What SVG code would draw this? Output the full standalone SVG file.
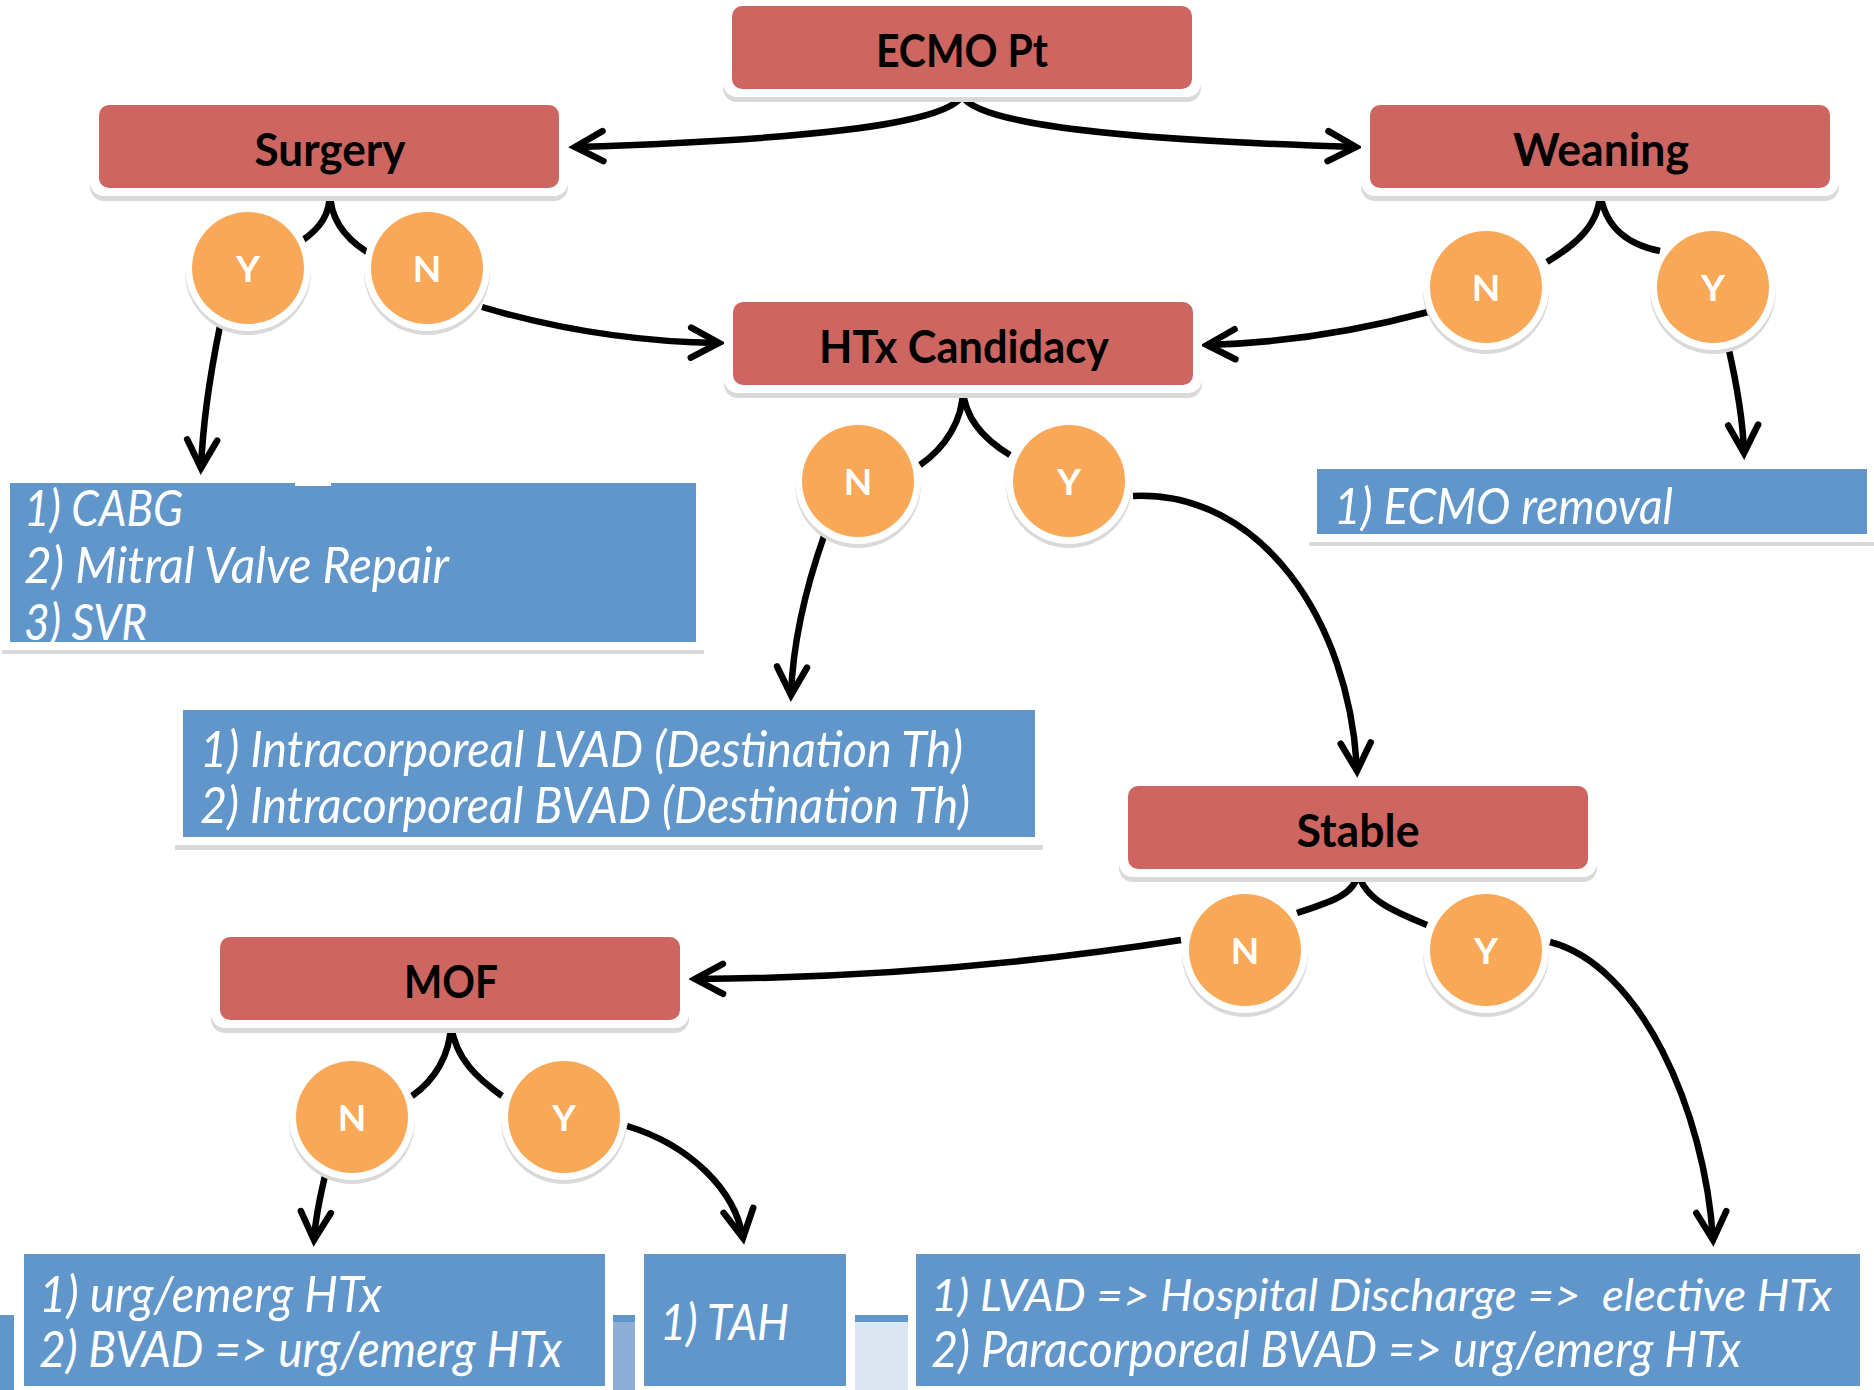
<svg xmlns="http://www.w3.org/2000/svg" width="1874" height="1390" viewBox="0 0 1874 1390">
<style>
.shadow{fill:#d9d9d9}
.frame{fill:#ffffff}
.red{fill:#cd6660}
.orange{fill:#f9a857}
.blue{fill:#6196ca}
.hd{font-family:Lato,"Liberation Sans",sans-serif;font-weight:bold;font-size:45px;fill:#000;text-anchor:middle}
.yn{font-family:Lato,"Liberation Sans",sans-serif;font-weight:bold;font-size:37px;fill:#fff;text-anchor:middle}
.it{font-family:Lato,"Liberation Sans",sans-serif;font-style:italic;font-size:50px;fill:#fff}
.it.long{font-size:44px}
.con{fill:none;stroke:#000;stroke-width:6.5}
</style>
<defs>
<marker id="arr" markerUnits="userSpaceOnUse" markerWidth="60" markerHeight="60" viewBox="-40 -30 60 60" refX="0" refY="0" orient="auto" overflow="visible">
<path d="M-28,-15 L0,0 L-28,15" fill="none" stroke="#000" stroke-width="6.5" stroke-linecap="round" stroke-linejoin="miter"/>
</marker>
</defs>
<rect width="1874" height="1390" fill="#fff"/>

<g id="bottom-strips">
<rect x="0" y="1315" width="14" height="75" fill="#6196ca"/>
<rect x="613" y="1322" width="22" height="68" fill="#8daed8"/>
<rect x="613" y="1315" width="22" height="7" fill="#6196ca"/>
<rect x="855" y="1322" width="53" height="68" fill="#dce6f2"/>
<rect x="855" y="1315" width="53" height="7" fill="#6196ca"/>
</g>

<g id="connectors">
<path class="con" d="M962,96 C945,125 800,140 575,147" marker-end="url(#arr)"/>
<path class="con" d="M962,96 C979,125 1124,140 1356,147" marker-end="url(#arr)"/>
<path class="con" d="M330,192 C330,215 320,228 303,240"/>
<path class="con" d="M330,192 C330,218 345,238 367,252"/>
<path class="con" d="M220,326 C212,365 203,420 201,468" marker-end="url(#arr)"/>
<path class="con" d="M482,307 C560,330 640,342 719,343" marker-end="url(#arr)"/>
<path class="con" d="M1600,192 C1600,225 1575,245 1547,262"/>
<path class="con" d="M1600,192 C1605,230 1630,245 1660,251"/>
<path class="con" d="M1428,312 C1350,333 1280,343 1207,345" marker-end="url(#arr)"/>
<path class="con" d="M1728,346 C1737,385 1743,420 1744,453" marker-end="url(#arr)"/>
<path class="con" d="M963,390 C963,420 945,448 920,465"/>
<path class="con" d="M963,390 C965,420 985,440 1010,455"/>
<path class="con" d="M824,536 C805,590 793,640 791,695" marker-end="url(#arr)"/>
<path class="con" d="M1133,496 C1260,490 1350,620 1357,771" marker-end="url(#arr)"/>
<path class="con" d="M1358,873 C1355,895 1330,902 1297,913"/>
<path class="con" d="M1358,873 C1365,900 1395,912 1427,925"/>
<path class="con" d="M1181,940 C1020,965 850,978 695,979" marker-end="url(#arr)"/>
<path class="con" d="M1550,942 C1640,965 1705,1110 1713,1240" marker-end="url(#arr)"/>
<path class="con" d="M451,1024 C450,1055 435,1080 412,1096"/>
<path class="con" d="M451,1024 C455,1060 480,1080 502,1096"/>
<path class="con" d="M326,1172 C319,1200 315,1225 314,1240" marker-end="url(#arr)"/>
<path class="con" d="M627,1126 C690,1145 735,1190 743,1238" marker-end="url(#arr)"/>
</g>

<g id="ecmo-pt">
<rect class="shadow" x="723" y="3" width="478" height="99" rx="14"/>
<rect class="frame" x="723" y="-2" width="478" height="99" rx="14"/>
<rect class="red" x="732" y="6" width="460" height="83" rx="10"/>
<text class="hd" x="962" y="67" textLength="172" lengthAdjust="spacingAndGlyphs">ECMO Pt</text>
</g>
<g id="surgery">
<rect class="shadow" x="90" y="102" width="478" height="99" rx="14"/>
<rect class="frame" x="90" y="97" width="478" height="99" rx="14"/>
<rect class="red" x="99" y="105" width="460" height="83" rx="10"/>
<text class="hd" x="330" y="166" textLength="151" lengthAdjust="spacingAndGlyphs">Surgery</text>
</g>
<g id="weaning">
<rect class="shadow" x="1361" y="102" width="478" height="99" rx="14"/>
<rect class="frame" x="1361" y="97" width="478" height="99" rx="14"/>
<rect class="red" x="1370" y="105" width="460" height="83" rx="10"/>
<text class="hd" x="1601" y="166" textLength="176" lengthAdjust="spacingAndGlyphs">Weaning</text>
</g>
<g id="htx-candidacy">
<rect class="shadow" x="724" y="299" width="478" height="99" rx="14"/>
<rect class="frame" x="724" y="294" width="478" height="99" rx="14"/>
<rect class="red" x="733" y="302" width="460" height="83" rx="10"/>
<text class="hd" x="964" y="363" textLength="290" lengthAdjust="spacingAndGlyphs">HTx Candidacy</text>
</g>
<g id="stable">
<rect class="shadow" x="1119" y="783" width="478" height="99" rx="14"/>
<rect class="frame" x="1119" y="778" width="478" height="99" rx="14"/>
<rect class="red" x="1128" y="786" width="460" height="83" rx="10"/>
<text class="hd" x="1358" y="847" textLength="123" lengthAdjust="spacingAndGlyphs">Stable</text>
</g>
<g id="mof">
<rect class="shadow" x="211" y="934" width="478" height="99" rx="14"/>
<rect class="frame" x="211" y="929" width="478" height="99" rx="14"/>
<rect class="red" x="220" y="937" width="460" height="83" rx="10"/>
<text class="hd" x="451" y="998" textLength="94" lengthAdjust="spacingAndGlyphs">MOF</text>
</g>

<g id="surgery-y">
<circle class="shadow" cx="248" cy="272" r="63"/><circle class="frame" cx="248" cy="268" r="63"/><circle class="orange" cx="248" cy="268" r="56"/>
<text class="yn" x="248" y="282">Y</text>
</g>
<g id="surgery-n">
<circle class="shadow" cx="427" cy="272" r="63"/><circle class="frame" cx="427" cy="268" r="63"/><circle class="orange" cx="427" cy="268" r="56"/>
<text class="yn" x="427" y="282">N</text>
</g>
<g id="weaning-n">
<circle class="shadow" cx="1486" cy="291" r="63"/><circle class="frame" cx="1486" cy="287" r="63"/><circle class="orange" cx="1486" cy="287" r="56"/>
<text class="yn" x="1486" y="301">N</text>
</g>
<g id="weaning-y">
<circle class="shadow" cx="1713" cy="291" r="63"/><circle class="frame" cx="1713" cy="287" r="63"/><circle class="orange" cx="1713" cy="287" r="56"/>
<text class="yn" x="1713" y="301">Y</text>
</g>
<g id="htx-n">
<circle class="shadow" cx="858" cy="485" r="63"/><circle class="frame" cx="858" cy="481" r="63"/><circle class="orange" cx="858" cy="481" r="56"/>
<text class="yn" x="858" y="495">N</text>
</g>
<g id="htx-y">
<circle class="shadow" cx="1069" cy="485" r="63"/><circle class="frame" cx="1069" cy="481" r="63"/><circle class="orange" cx="1069" cy="481" r="56"/>
<text class="yn" x="1069" y="495">Y</text>
</g>
<g id="stable-n">
<circle class="shadow" cx="1245" cy="954" r="63"/><circle class="frame" cx="1245" cy="950" r="63"/><circle class="orange" cx="1245" cy="950" r="56"/>
<text class="yn" x="1245" y="964">N</text>
</g>
<g id="stable-y">
<circle class="shadow" cx="1486" cy="954" r="63"/><circle class="frame" cx="1486" cy="950" r="63"/><circle class="orange" cx="1486" cy="950" r="56"/>
<text class="yn" x="1486" y="964">Y</text>
</g>
<g id="mof-n">
<circle class="shadow" cx="352" cy="1121" r="63"/><circle class="frame" cx="352" cy="1117" r="63"/><circle class="orange" cx="352" cy="1117" r="56"/>
<text class="yn" x="352" y="1131">N</text>
</g>
<g id="mof-y">
<circle class="shadow" cx="564" cy="1121" r="63"/><circle class="frame" cx="564" cy="1117" r="63"/><circle class="orange" cx="564" cy="1117" r="56"/>
<text class="yn" x="564" y="1131">Y</text>
</g>

<g id="surgery-options">
<rect class="shadow" x="2" y="484" width="702" height="170"/>
<rect class="frame" x="2" y="476" width="702" height="174"/>
<rect class="blue" x="10" y="483" width="686" height="159"/>
<rect class="frame" x="295" y="482" width="36" height="4"/>
<text class="it" x="24" y="526" textLength="159" lengthAdjust="spacingAndGlyphs">1) CABG</text>
<text class="it" x="24" y="583" textLength="425" lengthAdjust="spacingAndGlyphs">2) Mitral Valve Repair</text>
<text class="it" x="24" y="640" textLength="123" lengthAdjust="spacingAndGlyphs">3) SVR</text>
</g>
<g id="ecmo-removal">
<rect class="shadow" x="1309" y="467" width="565" height="79"/>
<rect class="frame" x="1309" y="461" width="565" height="81"/>
<rect class="blue" x="1317" y="469" width="550" height="65"/>
<text class="it" x="1334" y="524" textLength="339" lengthAdjust="spacingAndGlyphs">1) ECMO removal</text>
</g>
<g id="destination-therapy">
<rect class="shadow" x="175" y="709" width="868" height="141"/>
<rect class="frame" x="175" y="702" width="868" height="143"/>
<rect class="blue" x="183" y="710" width="852" height="127"/>
<text class="it" x="200" y="767" textLength="763" lengthAdjust="spacingAndGlyphs">1) Intracorporeal LVAD (Destination Th)</text>
<text class="it" x="200" y="823" textLength="770" lengthAdjust="spacingAndGlyphs">2) Intracorporeal BVAD (Destination Th)</text>
</g>
<g id="urgent-htx">
<rect class="frame" x="18" y="1248" width="593" height="142"/>
<rect class="blue" x="24" y="1254" width="581" height="132"/>
<text class="it" x="39" y="1312" textLength="343" lengthAdjust="spacingAndGlyphs">1) urg/emerg HTx</text>
<text class="it" x="39" y="1367" textLength="523" lengthAdjust="spacingAndGlyphs">2) BVAD =&gt; urg/emerg HTx</text>
</g>
<g id="tah">
<rect class="frame" x="638" y="1248" width="214" height="142"/>
<rect class="blue" x="644" y="1254" width="202" height="132"/>
<text class="it" x="660" y="1340" textLength="129" lengthAdjust="spacingAndGlyphs">1) TAH</text>
</g>
<g id="elective-htx">
<rect class="frame" x="910" y="1248" width="956" height="142"/>
<rect class="blue" x="916" y="1254" width="944" height="132"/>
<text class="it long" x="931" y="1311" textLength="901" lengthAdjust="spacingAndGlyphs" xml:space="preserve">1) LVAD =&gt; Hospital Discharge =&gt;  elective HTx</text>
<text class="it" x="931" y="1367" textLength="810" lengthAdjust="spacingAndGlyphs">2) Paracorporeal BVAD =&gt; urg/emerg HTx</text>
</g>
</svg>
